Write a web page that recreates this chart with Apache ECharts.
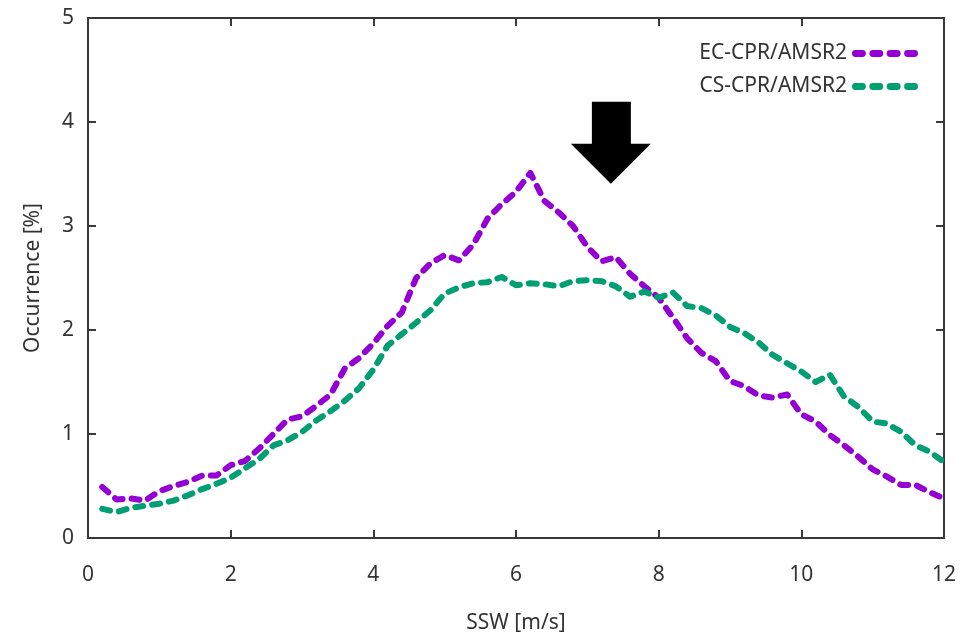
<!DOCTYPE html>
<html>
<head>
<meta charset="utf-8">
<script src="https://cdn.jsdelivr.net/npm/echarts@6/dist/echarts.min.js"></script>
<style>
  html, body { margin: 0; padding: 0; background: #fff; }
  #chart { width: 964px; height: 640px; }
</style>
</head>
<body>
<div id="chart"></div>
<script>
// wind speed bins (m/s)
var ssw = [0.2,0.4,0.6,0.8,1.0,1.2,1.4,1.6,1.8,2.0,2.2,2.4,2.6,2.8,3.0,3.2,3.4,3.6,3.8,4.0,
  4.2,4.4,4.6,4.8,5.0,5.2,5.4,5.6,5.8,6.0,6.2,6.4,6.6,6.8,7.0,7.2,7.4,7.6,7.8,8.0,
  8.2,8.4,8.6,8.8,9.0,9.2,9.4,9.6,9.8,10.0,10.2,10.4,10.6,10.8,11.0,11.2,11.4,11.6,11.8,12.0];
// EC-CPR/AMSR2 occurrence (%)
var ecOcc = [0.49,0.37,0.38,0.36,0.45,0.50,0.54,0.60,0.60,0.70,0.74,0.86,1.00,1.14,1.17,1.27,1.38,1.63,1.73,1.87,
  2.04,2.17,2.50,2.64,2.72,2.67,2.82,3.07,3.21,3.33,3.51,3.24,3.13,3.00,2.80,2.66,2.70,2.54,2.42,2.31,
  2.12,1.92,1.78,1.70,1.51,1.46,1.37,1.35,1.38,1.19,1.12,0.99,0.89,0.78,0.66,0.59,0.51,0.51,0.44,0.38];
// CS-CPR/AMSR2 occurrence (%)
var csOcc = [0.28,0.25,0.29,0.31,0.33,0.36,0.41,0.47,0.52,0.58,0.67,0.76,0.89,0.94,1.02,1.13,1.22,1.32,1.44,1.62,
  1.85,1.96,2.07,2.19,2.35,2.41,2.45,2.46,2.51,2.43,2.45,2.44,2.42,2.47,2.48,2.47,2.42,2.32,2.37,2.31,
  2.36,2.23,2.21,2.14,2.03,1.97,1.88,1.76,1.68,1.60,1.50,1.57,1.36,1.26,1.12,1.10,1.02,0.89,0.83,0.73];
var seriesNames = ['EC-CPR/AMSR2', 'CS-CPR/AMSR2'];
var arrowAt = [7.33, 3.8];

function pairs(ys) {
  return ssw.map(function (x, i) { return [x, ys[i]]; });
}

var font = 'Noto Sans';
var fs = 21;
var axisColor = '#3a3a3a';
var txtColor = '#333';

// four rounded dashes, like the gnuplot key sample
var pill = function (o) {
  return 'M' + (o + 3.5) + ',0 H' + (o + 10.5) + ' A3.5,3.5 0 0 1 ' + (o + 10.5) + ',7 H' + (o + 3.5) +
    ' A3.5,3.5 0 0 1 ' + (o + 3.5) + ',0 Z ';
};
var keyIcon = 'path://' + pill(0) + pill(17.5) + pill(35) + pill(52.5);

function makeX(pos, labels) {
  return {
    type: 'value', position: pos, min: 0, max: 12, interval: 2,
    name: labels ? 'SSW [m/s]' : '', nameLocation: 'middle', nameGap: 75,
    nameTextStyle: { fontFamily: font, fontSize: fs, color: txtColor },
    axisLine: { show: true, onZero: false, lineStyle: { color: axisColor, width: 2 } },
    axisTick: { show: true, inside: true, length: 8, lineStyle: { color: axisColor, width: 2 } },
    axisLabel: { show: labels, margin: 27, fontFamily: font, fontSize: fs, color: txtColor },
    splitLine: { show: false }
  };
}
function makeY(pos, labels) {
  return {
    type: 'value', position: pos, min: 0, max: 5, interval: 1,
    name: labels ? 'Occurrence [%]' : '', nameLocation: 'middle', nameGap: 44, nameRotate: 90,
    nameTextStyle: { fontFamily: font, fontSize: fs, color: txtColor },
    axisLine: { show: true, onZero: false, lineStyle: { color: axisColor, width: 2 } },
    axisTick: { show: true, inside: true, length: 8, lineStyle: { color: axisColor, width: 2 } },
    axisLabel: { show: labels, margin: 14, fontFamily: font, fontSize: fs, color: txtColor },
    splitLine: { show: false }
  };
}

var chart = echarts.init(document.getElementById('chart'));
chart.setOption({
  animation: false,
  backgroundColor: '#fff',
  grid: { left: 88, right: 20, top: 18, bottom: 102 },
  xAxis: [makeX('bottom', true), makeX('top', false)],
  yAxis: [makeY('left', true), makeY('right', false)],
  legend: {
    orient: 'vertical', right: 41, top: 38, align: 'right',
    icon: keyIcon, itemWidth: 66, itemHeight: 7, itemGap: 12,
    textStyle: { fontFamily: font, fontSize: fs, color: txtColor },
    data: seriesNames
  },
  series: [
    {
      name: seriesNames[0], type: 'line', showSymbol: false, symbol: 'none',
      data: pairs(ecOcc), color: '#9400d3',
      lineStyle: { color: '#9400d3', width: 6, type: [8, 9], cap: 'round', join: 'round' },
      markPoint: {
        silent: true,
        symbol: 'path://M21,0 L60,0 L60,42 L80,42 L40,82 L0,42 L21,42 Z',
        symbolSize: [80, 82],
        itemStyle: { color: '#000' },
        label: { show: false },
        data: [{ coord: arrowAt }]
      }
    },
    {
      name: seriesNames[1], type: 'line', showSymbol: false, symbol: 'none',
      data: pairs(csOcc), color: '#009e73',
      lineStyle: { color: '#009e73', width: 6, type: [8, 9], cap: 'round', join: 'round' }
    }
  ]
});
</script>
</body>
</html>
